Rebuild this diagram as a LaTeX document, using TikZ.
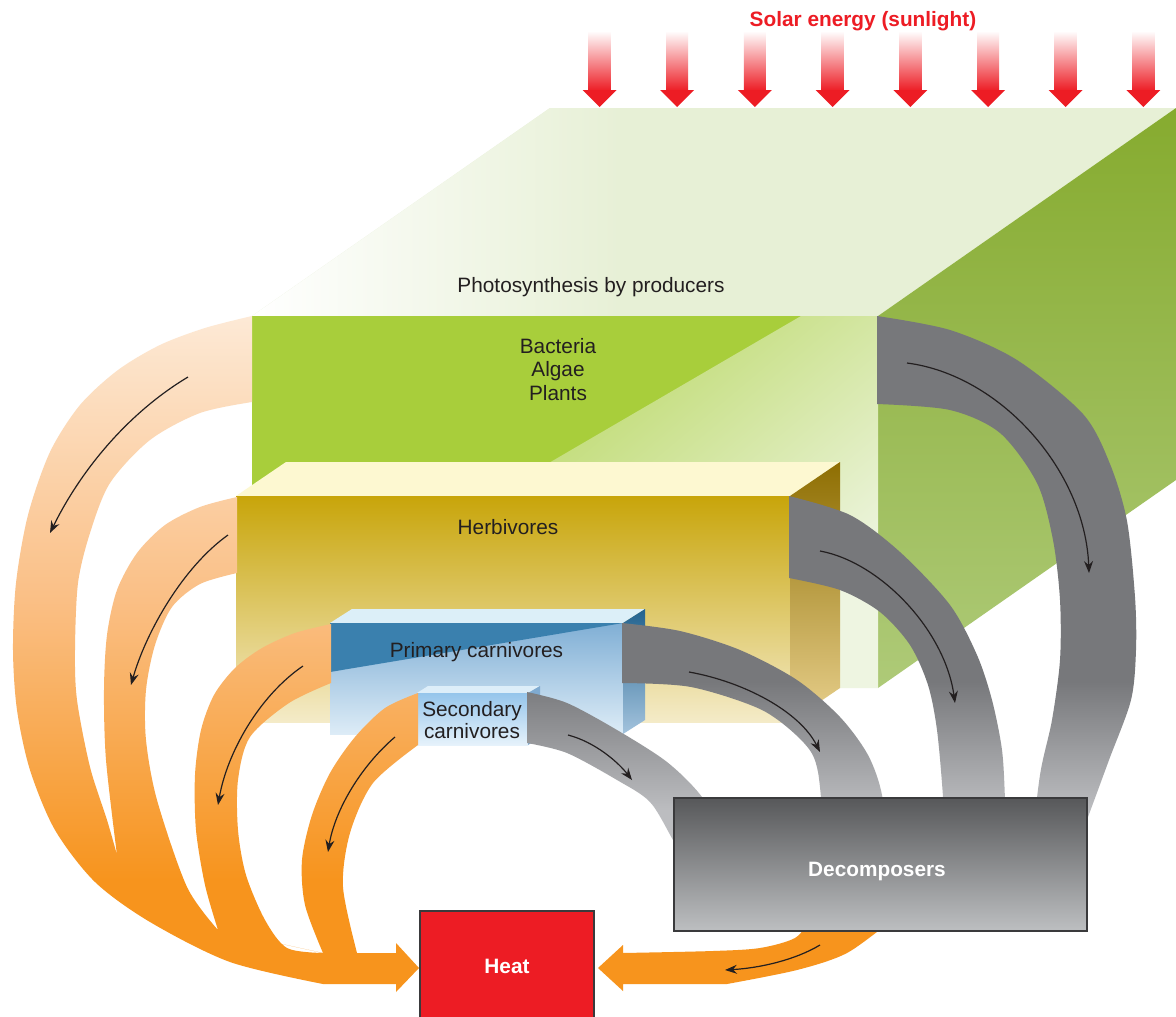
\documentclass[tikz,border=0pt]{standalone}
\usepackage{fontspec}
\setmainfont{Liberation Sans}
\usetikzlibrary{arrows.meta}
\definecolor{solarred}{HTML}{ED1C24}
\definecolor{txtc}{HTML}{231F20}
\definecolor{orng}{HTML}{F7941D}
\definecolor{orngmid}{HTML}{FABF85}
\definecolor{orngtop}{HTML}{FDEBD9}
\definecolor{gryd}{HTML}{77787B}
\definecolor{gryl}{HTML}{BCBDC0}
\definecolor{grtop}{HTML}{E7F0D6}
\definecolor{grfront}{HTML}{A8CE3B}
\definecolor{grmidlt}{HTML}{B9D765}
\definecolor{grlt}{HTML}{EEF5E1}
\definecolor{grsideA}{HTML}{86AB2F}
\definecolor{grsideB}{HTML}{AECA78}
\definecolor{herbtop}{HTML}{FDF8D1}
\definecolor{herbA}{HTML}{C8A50A}
\definecolor{herbM}{HTML}{DCC46C}
\definecolor{herbB}{HTML}{F4EBC8}
\definecolor{herbsideA}{HTML}{8E6E02}
\definecolor{herbsideB}{HTML}{E8D08D}
\definecolor{primtop}{HTML}{DCEFF8}
\definecolor{primdark}{HTML}{3A80AE}
\definecolor{primA}{HTML}{80AFD5}
\definecolor{primB}{HTML}{DDECF7}
\definecolor{primsideA}{HTML}{23638F}
\definecolor{primsideB}{HTML}{A3C3DD}
\definecolor{sectop}{HTML}{DDEEF9}
\definecolor{secA}{HTML}{95C5EB}
\definecolor{secB}{HTML}{E6F2FB}
\definecolor{secside}{HTML}{7FAAD0}
\definecolor{decA}{HTML}{57585A}
\definecolor{decM}{HTML}{7D7E81}
\definecolor{decB}{HTML}{BDBFC1}
\definecolor{boxline}{HTML}{3A3A3C}
\pgfdeclareverticalshading{orshade}{100bp}{color(0bp)=(orng); color(34.6bp)=(orng); color(54.3bp)=(orngmid); color(75bp)=(orngtop); color(100bp)=(orngtop)}
\pgfdeclareverticalshading{grshade}{100bp}{color(0bp)=(gryl); color(39.4bp)=(gryl); color(48.4bp)=(gryd); color(100bp)=(gryd)}
\begin{document}
\begin{tikzpicture}[x=1pt,y=-1pt,
  lbl/.style={text=txtc, inner sep=0pt, anchor=base, font=\fontsize{20.8}{24}\selectfont},
  boldlbl/.style={text=white, inner sep=0pt, anchor=base, font=\fontsize{20.8}{24}\selectfont\bfseries},
  flow/.style={draw=txtc, line width=1.2pt, -{Stealth[length=12pt,width=9pt,inset=4pt]}},
  orangeband/.style={path picture={\shade[shading=orshade] (0,305) rectangle (1176,1017);}},
  grayband/.style={path picture={\shade[shading=grshade] (0,300) rectangle (1176,1017);}},
  decstyle/.style={draw=boxline, line width=1.5pt, top color=decA, middle color=decM, bottom color=decB, inner sep=0pt},
  heatstyle/.style={draw=boxline, line width=1.5pt, fill=solarred, inner sep=0pt}
]
\useasboundingbox (0,0) rectangle (1176,1017);
\fill[white] (0,0) rectangle (1176,1017);

% ---------- solar energy ----------
\foreach \i in {0,...,7}{
  \pgfmathsetmacro{\cx}{599.5+77.7*\i}
  \shade[top color=white, bottom color=solarred] (\cx-11,31) rectangle (\cx+11,91);
  \fill[solarred] (\cx-17,90) -- (\cx+17,90) -- (\cx,107) -- cycle;
}
\node[boldlbl, text=solarred] (solar) at (863,26) {Solar energy (sunlight)};

% ---------- producers block ----------
\fill[grtop] (252,316) -- (878,316) -- (1176,108) -- (550,108) -- cycle;
\begin{scope}
  \clip (252,316) -- (878,316) -- (1176,108) -- (550,108) -- cycle;
  \shade[left color=white, right color=grtop] (252,100) rectangle (620,320);
\end{scope}
\shade[top color=grsideA, bottom color=grsideB] (878,316) -- (1176,108) -- (1176,480) -- (878,688) -- cycle;
\fill[grfront] (252,316) rectangle (878,688);
\shade[top color=grfront, middle color=grmidlt, bottom color=grlt, shading angle=40]
  (801,316) -- (878,316) -- (878,688) -- (252,688) -- (252,636) -- cycle;

% gray band 1: producers -> decomposers
\path[grayband] plot[smooth] coordinates {(877,316) (950,330) (1017,360) (1083,414) (1110,464) (1127,521) (1135,597) (1136,650) (1131,700) (1109,760) (1088,817) (1072,860)}
  -- plot[smooth] coordinates {(1030,860) (1040,775) (1052,720) (1060,660) (1060,600) (1053,540) (1037,483) (1000,433) (950,410) (877,404)} -- cycle;

% ---------- herbivores block ----------
\fill[herbtop] (236,496) -- (790,496) -- (840,462) -- (286,462) -- cycle;
\shade[top color=herbA, middle color=herbM, bottom color=herbB] (236,496) rectangle (790,722);
\shade[top color=herbsideA, bottom color=herbsideB] (790,496) -- (840,462) -- (840,688) -- (790,722) -- cycle;

% gray band 2
\path[grayband] plot[smooth] coordinates {(789,496) (850,515) (900,552) (950,605) (977,655) (992,700) (1002,750) (1005,800) (1006,850)}
  -- plot[smooth] coordinates {(945,850) (943,797) (937,730) (928,685) (910,645) (880,612) (840,590) (789,578)} -- cycle;

% ---------- primary carnivores block ----------
\fill[primtop] (330,623) -- (623,623) -- (645,609) -- (352,609) -- cycle;
\shade[top color=primA, bottom color=primB] (330,623) rectangle (623,734);
\fill[primdark] (330,623) -- (623,623) -- (330,672) -- cycle;
\shade[top color=primsideA, bottom color=primsideB] (623,623) -- (645,609) -- (645,720) -- (623,734) -- cycle;

% gray band 3
\path[grayband] plot[smooth] coordinates {(622,623) (680,631) (740,650) (797,680) (840,717) (868,755) (882,795) (886,850)}
  -- plot[smooth] coordinates {(825,850) (818,772) (804,743) (762,710) (691,687) (622,683)} -- cycle;

% ---------- secondary carnivores block ----------
\fill[sectop] (417,693) -- (528,693) -- (540,686) -- (428,686) -- cycle;
\shade[top color=secA, bottom color=secB] (417,693) rectangle (528,745);
\fill[secside] (528,693) -- (540,686) -- (540,738) -- (528,745) -- cycle;

% gray band 4
\path[grayband] plot[smooth] coordinates {(527,692) (567,703) (617,730) (667,762) (702,797) (725,840)}
  -- plot[smooth] coordinates {(690,870) (673,840) (650,802) (617,780) (567,753) (527,743)} -- cycle;

% ---------- orange heat flows (one filled union) ----------
\path[orangeband]
  % band 1: producers
  plot[smooth] coordinates {(252,316) (205,328) (160,345) (118,370) (80,405) (50,452) (28,515) (16,583) (13,650) (17,710) (30,770) (55,830) (95,882) (150,922) (230,962) (323,984)}
  -- (398,984) -- (398,953) -- (323,953) -- (218,930)
  -- plot[smooth] coordinates {(117,855) (107,820) (90,767) (77,700) (75,650) (78,583) (90,533) (110,483) (150,440) (200,413) (252,402)} -- cycle
  % band 2: herbivores
  plot[smooth] coordinates {(237,497) (200,507) (165,525) (137,553) (117,590) (107,635) (104,690) (106,760) (117,855)}
  -- plot[smooth] coordinates {(218,930) (187,887) (157,800) (146,740) (146,690) (155,645) (172,607) (200,584) (237,573)} -- cycle
  % band 3: primary carnivores
  plot[smooth] coordinates {(331,624) (295,633) (262,648) (235,668) (214,695) (201,730) (195,775) (196,830) (205,885) (218,930)}
  -- plot[smooth] coordinates {(323,953) (287,948) (265,920) (246,875) (238,830) (238,780) (250,737) (289,703) (331,683)} -- cycle
  % band 4: secondary carnivores
  plot[smooth] coordinates {(418,693) (385,708) (355,737) (330,773) (312,815) (302,860) (305,905) (323,953)}
  -- plot[smooth] coordinates {(357,953) (343,887) (350,833) (373,783) (418,745)} -- cycle
  % arrow head
  (396,943) -- (396,992) -- (419,968) -- cycle;

% orange: decomposers -> heat
\fill[orng] plot[smooth] coordinates {(810,920) (795,938) (760,948) (713,951) (623,953)}
  -- (623,945) -- (598,968) -- (623,991) -- (623,984)
  -- plot[smooth] coordinates {(727,984) (797,970) (847,953) (892,920)} -- cycle;

% ---------- boxes ----------
\node[decstyle, minimum width=413pt, minimum height=133pt] (decbox) at (880.5,864.5) {};
\node[heatstyle, minimum width=174pt, minimum height=130pt] (heatbox) at (507,976) {};

% ---------- flow arrows ----------
\coordinate (o1s) at (188,377); \coordinate (o1e) at (50,533);
\coordinate (o2s) at (228,535); \coordinate (o2e) at (131,685);
\coordinate (o3s) at (303,666); \coordinate (o3e) at (218,805);
\coordinate (o4s) at (395,737); \coordinate (o4e) at (328,852);
\coordinate (o5s) at (820,945); \coordinate (o5e) at (725,970);
\coordinate (g1s) at (907,363); \coordinate (g1e) at (1089,573);
\coordinate (g2s) at (820,551); \coordinate (g2e) at (955,703);
\coordinate (g3s) at (689,672); \coordinate (g3e) at (820,752);
\coordinate (g4s) at (568,735); \coordinate (g4e) at (632,780);
\draw[flow] (o1s) .. controls (128,413) and (81,470) .. (o1e);
\draw[flow] (o2s) .. controls (183,567) and (146,632) .. (o2e);
\draw[flow] (o3s) .. controls (259,696) and (227,753) .. (o3e);
\draw[flow] (o4s) .. controls (362,765) and (335,809) .. (o4e);
\draw[flow] (o5s) .. controls (795,960) and (760,968) .. (o5e);
\draw[flow] (g1s) .. controls (1000,375) and (1085,470) .. (g1e);
\draw[flow] (g2s) .. controls (880,562) and (945,630) .. (g2e);
\draw[flow] (g3s) .. controls (745,682) and (800,712) .. (g3e);
\draw[flow] (g4s) .. controls (595,742) and (618,762) .. (g4e);

% ---------- labels ----------
\node[lbl] (photo) at (591,292) {Photosynthesis by producers};
\node[lbl] (bact) at (558,353.3) {Bacteria};
\node[lbl] (alg) at (558,376.7) {Algae};
\node[lbl] (plnt) at (558,400) {Plants};
\node[lbl] (herb) at (508,534) {Herbivores};
\node[lbl] (prim) at (476.5,657) {Primary carnivores};
\node[lbl] (sec1) at (472,716) {Secondary};
\node[lbl] (sec2) at (472,738.3) {carnivores};
\node[boldlbl] (dec) at (877,876.7) {Decomposers};
\node[boldlbl] (heat) at (507,973.3) {Heat};
\end{tikzpicture}
\end{document}
